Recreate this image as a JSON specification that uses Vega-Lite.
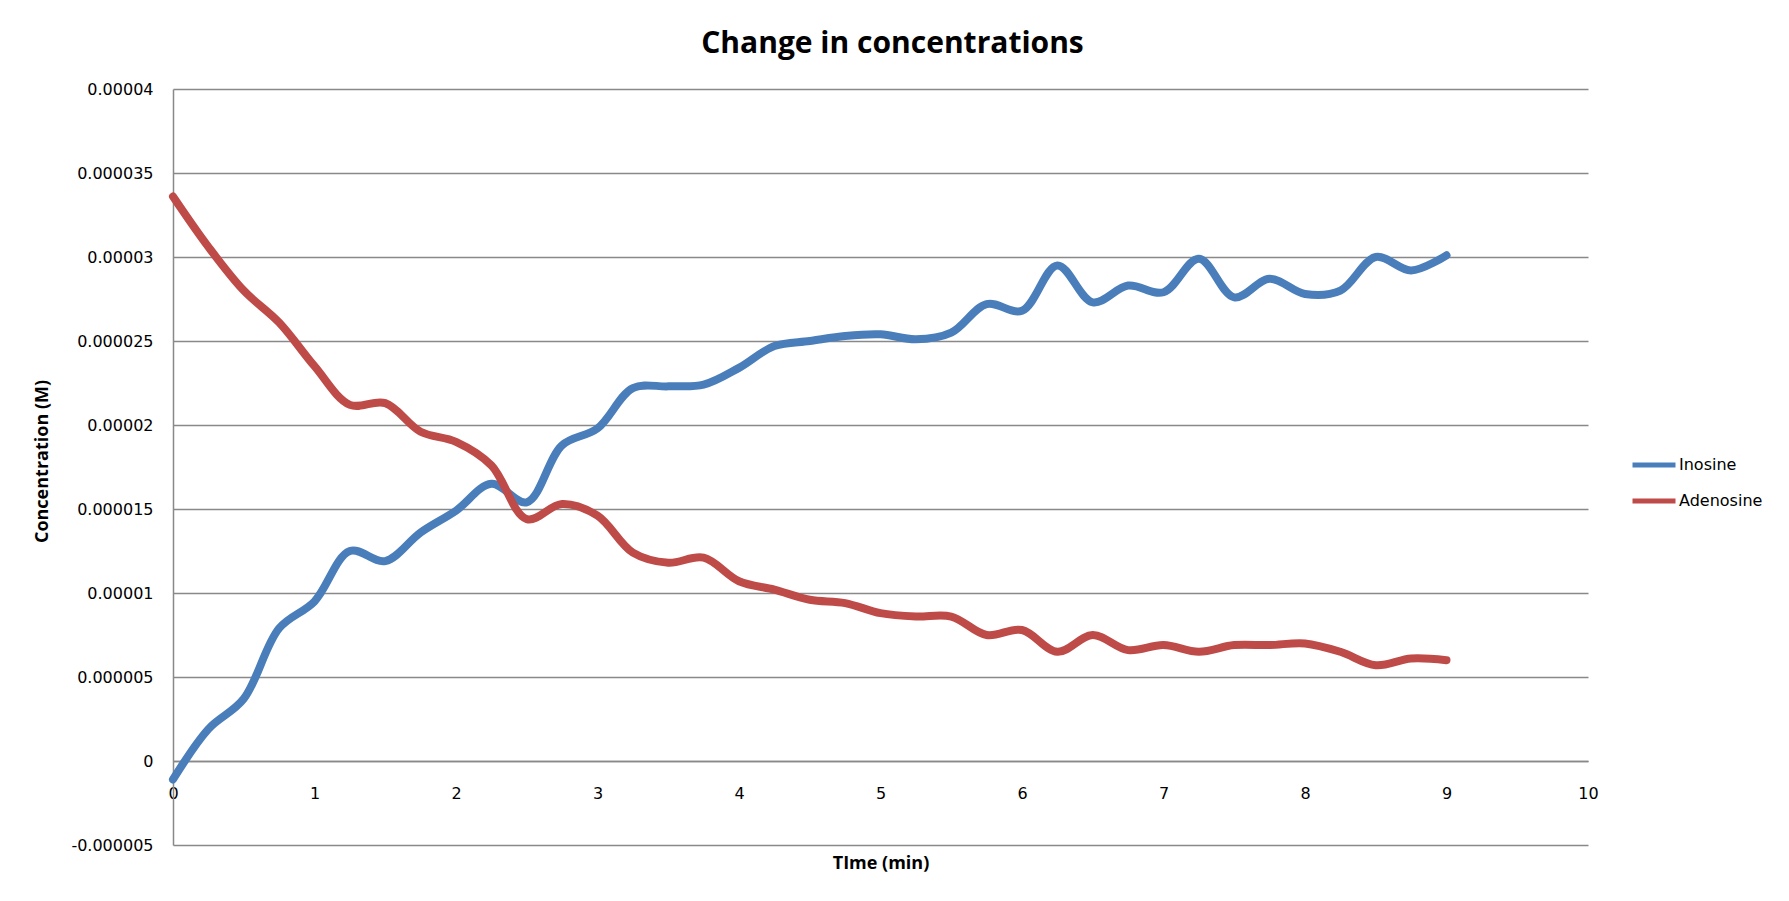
{
  "$schema": "https://vega.github.io/schema/vega-lite/v6.json",
  "width": 1415,
  "height": 756,
  "autosize": {"type": "none"},
  "padding": {"left": 173, "top": 89, "right": 201, "bottom": 56},
  "background": "white",
  "title": {
    "text": "Change in concentrations",
    "font": "Open Sans",
    "fontSize": 30,
    "fontWeight": "bold",
    "color": "black",
    "anchor": "middle",
    "frame": "group",
    "baseline": "alphabetic",
    "offset": -2,
    "dx": 12
  },
  "config": {
    "view": {"stroke": null},
    "axis": {
      "labelFont": "DejaVu Sans",
      "labelFontSize": 16,
      "labelColor": "black",
      "titleFont": "Open Sans",
      "titleFontSize": 18,
      "titleFontWeight": "bold",
      "titleColor": "black",
      "domainColor": "#898989",
      "domainWidth": 1.5,
      "gridColor": "#898989",
      "gridWidth": 1.5,
      "gridOpacity": 1,
      "ticks": false
    }
  },
  "data": {
    "values": [
      {"time": 0, "series": "Inosine", "value": -0.0000011},
      {"time": 0.25, "series": "Inosine", "value": 0.0000019},
      {"time": 0.5, "series": "Inosine", "value": 0.0000037},
      {"time": 0.75, "series": "Inosine", "value": 0.0000079},
      {"time": 1, "series": "Inosine", "value": 0.0000095},
      {"time": 1.25, "series": "Inosine", "value": 0.0000125},
      {"time": 1.5, "series": "Inosine", "value": 0.0000119},
      {"time": 1.75, "series": "Inosine", "value": 0.0000136},
      {"time": 2, "series": "Inosine", "value": 0.0000149},
      {"time": 2.25, "series": "Inosine", "value": 0.0000165},
      {"time": 2.5, "series": "Inosine", "value": 0.0000154},
      {"time": 2.75, "series": "Inosine", "value": 0.0000188},
      {"time": 3, "series": "Inosine", "value": 0.0000198},
      {"time": 3.25, "series": "Inosine", "value": 0.0000222},
      {"time": 3.5, "series": "Inosine", "value": 0.0000223},
      {"time": 3.75, "series": "Inosine", "value": 0.0000224},
      {"time": 4, "series": "Inosine", "value": 0.0000234},
      {"time": 4.25, "series": "Inosine", "value": 0.0000247},
      {"time": 4.5, "series": "Inosine", "value": 0.000025},
      {"time": 4.75, "series": "Inosine", "value": 0.0000253},
      {"time": 5, "series": "Inosine", "value": 0.0000254},
      {"time": 5.25, "series": "Inosine", "value": 0.0000251},
      {"time": 5.5, "series": "Inosine", "value": 0.0000255},
      {"time": 5.75, "series": "Inosine", "value": 0.0000272},
      {"time": 6, "series": "Inosine", "value": 0.0000268},
      {"time": 6.25, "series": "Inosine", "value": 0.0000295},
      {"time": 6.5, "series": "Inosine", "value": 0.0000273},
      {"time": 6.75, "series": "Inosine", "value": 0.0000283},
      {"time": 7, "series": "Inosine", "value": 0.0000279},
      {"time": 7.25, "series": "Inosine", "value": 0.0000299},
      {"time": 7.5, "series": "Inosine", "value": 0.0000276},
      {"time": 7.75, "series": "Inosine", "value": 0.0000287},
      {"time": 8, "series": "Inosine", "value": 0.0000278},
      {"time": 8.25, "series": "Inosine", "value": 0.000028},
      {"time": 8.5, "series": "Inosine", "value": 0.00003},
      {"time": 8.75, "series": "Inosine", "value": 0.0000292},
      {"time": 9, "series": "Inosine", "value": 0.0000301},
      {"time": 0, "series": "Adenosine", "value": 0.0000336},
      {"time": 0.25, "series": "Adenosine", "value": 0.0000306},
      {"time": 0.5, "series": "Adenosine", "value": 0.000028},
      {"time": 0.75, "series": "Adenosine", "value": 0.0000261},
      {"time": 1, "series": "Adenosine", "value": 0.0000235},
      {"time": 1.25, "series": "Adenosine", "value": 0.0000212},
      {"time": 1.5, "series": "Adenosine", "value": 0.0000213},
      {"time": 1.75, "series": "Adenosine", "value": 0.0000196},
      {"time": 2, "series": "Adenosine", "value": 0.000019},
      {"time": 2.25, "series": "Adenosine", "value": 0.0000176},
      {"time": 2.5, "series": "Adenosine", "value": 0.0000144},
      {"time": 2.75, "series": "Adenosine", "value": 0.0000153},
      {"time": 3, "series": "Adenosine", "value": 0.0000146},
      {"time": 3.25, "series": "Adenosine", "value": 0.0000124},
      {"time": 3.5, "series": "Adenosine", "value": 0.0000118},
      {"time": 3.75, "series": "Adenosine", "value": 0.0000121},
      {"time": 4, "series": "Adenosine", "value": 0.0000107},
      {"time": 4.25, "series": "Adenosine", "value": 0.0000102},
      {"time": 4.5, "series": "Adenosine", "value": 0.0000096},
      {"time": 4.75, "series": "Adenosine", "value": 0.0000094},
      {"time": 5, "series": "Adenosine", "value": 0.0000088},
      {"time": 5.25, "series": "Adenosine", "value": 0.0000086},
      {"time": 5.5, "series": "Adenosine", "value": 0.0000086},
      {"time": 5.75, "series": "Adenosine", "value": 0.0000075},
      {"time": 6, "series": "Adenosine", "value": 0.0000078},
      {"time": 6.25, "series": "Adenosine", "value": 0.0000065},
      {"time": 6.5, "series": "Adenosine", "value": 0.0000075},
      {"time": 6.75, "series": "Adenosine", "value": 0.0000066},
      {"time": 7, "series": "Adenosine", "value": 0.0000069},
      {"time": 7.25, "series": "Adenosine", "value": 0.0000065},
      {"time": 7.5, "series": "Adenosine", "value": 0.0000069},
      {"time": 7.75, "series": "Adenosine", "value": 0.0000069},
      {"time": 8, "series": "Adenosine", "value": 0.000007},
      {"time": 8.25, "series": "Adenosine", "value": 0.0000065},
      {"time": 8.5, "series": "Adenosine", "value": 0.0000057},
      {"time": 8.75, "series": "Adenosine", "value": 0.0000061},
      {"time": 9, "series": "Adenosine", "value": 0.000006}
    ]
  },
  "mark": {
    "type": "line",
    "interpolate": "catmull-rom",
    "strokeWidth": 8,
    "strokeCap": "round",
    "strokeJoin": "round"
  },
  "encoding": {
    "x": {
      "field": "time",
      "type": "quantitative",
      "scale": {"domain": [0, 10], "nice": false, "zero": false},
      "axis": {
        "title": "TIme (min)",
        "values": [0, 1, 2, 3, 4, 5, 6, 7, 8, 9, 10],
        "grid": false,
        "offset": -84,
        "labelPadding": 24,
        "titleY": 107,
        "titleBaseline": "alphabetic",
        "labelFlush": false
      }
    },
    "y": {
      "field": "value",
      "type": "quantitative",
      "scale": {"domain": [-0.000005, 0.00004], "nice": false, "zero": false},
      "axis": {
        "title": "Concentration (M)",
        "values": [-0.000005, 0, 0.000005, 0.00001, 0.000015, 0.00002, 0.000025, 0.00003, 0.000035, 0.00004],
        "labelExpr": "replace(format(datum.value, '~g'), '\u2212', '-')",
        "labelPadding": 20,
        "labelFlush": false,
        "titleAngle": -90,
        "titleX": -131,
        "titleY": 372,
        "titleAlign": "center",
        "titleBaseline": "middle"
      }
    },
    "color": {
      "field": "series",
      "type": "nominal",
      "sort": ["Inosine", "Adenosine"],
      "scale": {"domain": ["Inosine", "Adenosine"], "range": ["#4a7ebb", "#be4b48"]},
      "legend": {
        "title": null,
        "orient": "none",
        "legendX": 1457,
        "legendY": 352,
        "symbolType": "stroke",
        "symbolSize": 1849,
        "symbolStrokeWidth": 5,
        "labelFont": "DejaVu Sans",
        "labelFontSize": 16,
        "labelColor": "black",
        "labelOffset": 1,
        "rowPadding": 2
      }
    }
  }
}
